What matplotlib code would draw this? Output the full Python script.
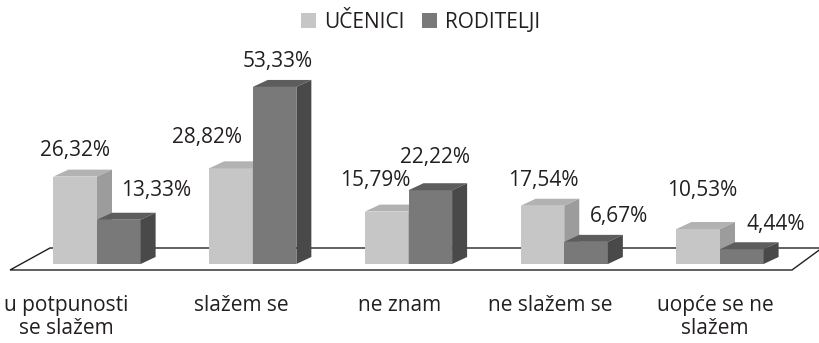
import matplotlib
matplotlib.use('Agg')
import matplotlib.pyplot as plt
from matplotlib.patches import Polygon, Patch

# data
categories = ['u potpunosti\nse slažem', 'slažem se', 'ne znam', 'ne slažem se', 'uopće se ne\nslažem']
ucenici = [26.32, 28.82, 15.79, 17.54, 10.53]
roditelji = [13.33, 53.33, 22.22, 6.67, 4.44]
series_names = ['UČENICI', 'RODITELJI']

# layout (pixels at dpi 100)
W, H = 819, 343
x0_px, step_px = 97, 155.75      # first group centre, group spacing
base_px, scale_px = 264, 3.32    # zero line, pixels per percent
bar_w = 0.28
dx = 15 / step_px                # depth of the 3d look
dy = 7 / scale_px
cat_shift_px = [-31, -11, -9, -14, -5]
lbl_off_u = [(0, 26), (-24, 31), (-11, 31), (1, 25), (4, 39)]
lbl_off_r = [(37, 29), (3, 25), (5, 33), (33, 25), (34, 25)]

light = ('#c6c6c6', '#b2b2b2', '#9c9c9c')
dark = ('#797979', '#5d5d5d', '#494949')
ink = '#231f20'

plt.rcParams['font.family'] = ['Open Sans', 'DejaVu Sans']
plt.rcParams['font.size'] = 15

fig = plt.figure(figsize=(W / 100, H / 100), dpi=100)
ax = fig.add_axes([0, 0, 1, 1])
ax.set_xlim(-x0_px / step_px, (W - x0_px) / step_px)
ax.set_ylim((base_px - H) / scale_px, base_px / scale_px)
ax.axis('off')

def px_x(p):
    return (p - x0_px) / step_px

def px_y(p):
    return (base_px - p) / scale_px

# floor
floor = [(px_x(10), px_y(270)), (px_x(50), px_y(248)),
         (px_x(822), px_y(248)), (px_x(792), px_y(270))]
ax.add_patch(Polygon(floor, closed=True, facecolor='white', edgecolor=ink, lw=1.0, zorder=1))

def bar3d(left, h, cols):
    ax.bar(left, h, width=bar_w, align='edge', color=cols[0], lw=0, zorder=3)
    r = left + bar_w
    top = [(left, h), (left + dx, h + dy), (r + dx, h + dy), (r, h)]
    side = [(r, 0), (r, h), (r + dx, h + dy), (r + dx, dy)]
    ax.add_patch(Polygon(top, closed=True, facecolor=cols[1], lw=0, zorder=3))
    ax.add_patch(Polygon(side, closed=True, facecolor=cols[2], lw=0, zorder=3))

def fmt(v):
    return f'{v:.2f}'.replace('.', ',') + '%'

for i in range(len(categories)):
    bar3d(i - bar_w, ucenici[i], light)
    bar3d(i, roditelji[i], dark)
    ax.annotate(fmt(ucenici[i]), (i - bar_w / 2, ucenici[i]), xytext=lbl_off_u[i],
                textcoords='offset pixels', ha='center', va='center', color=ink, zorder=5)
    ax.annotate(fmt(roditelji[i]), (i + bar_w / 2, roditelji[i]), xytext=lbl_off_r[i],
                textcoords='offset pixels', ha='center', va='center', color=ink, zorder=5)
    ax.text(i + cat_shift_px[i] / step_px, px_y(295), categories[i], ha='center', va='top',
            color=ink, linespacing=1.15)

handles = [Patch(facecolor=light[0]), Patch(facecolor=dark[0])]
fig.legend(handles, series_names, loc='center', bbox_to_anchor=(421 / W, 1 - 22 / H),
           ncol=2, frameon=False, handlelength=0.7, handleheight=0.7,
           handletextpad=0.4, columnspacing=0.85, labelcolor=ink)

fig.savefig('out.png', dpi=100)
